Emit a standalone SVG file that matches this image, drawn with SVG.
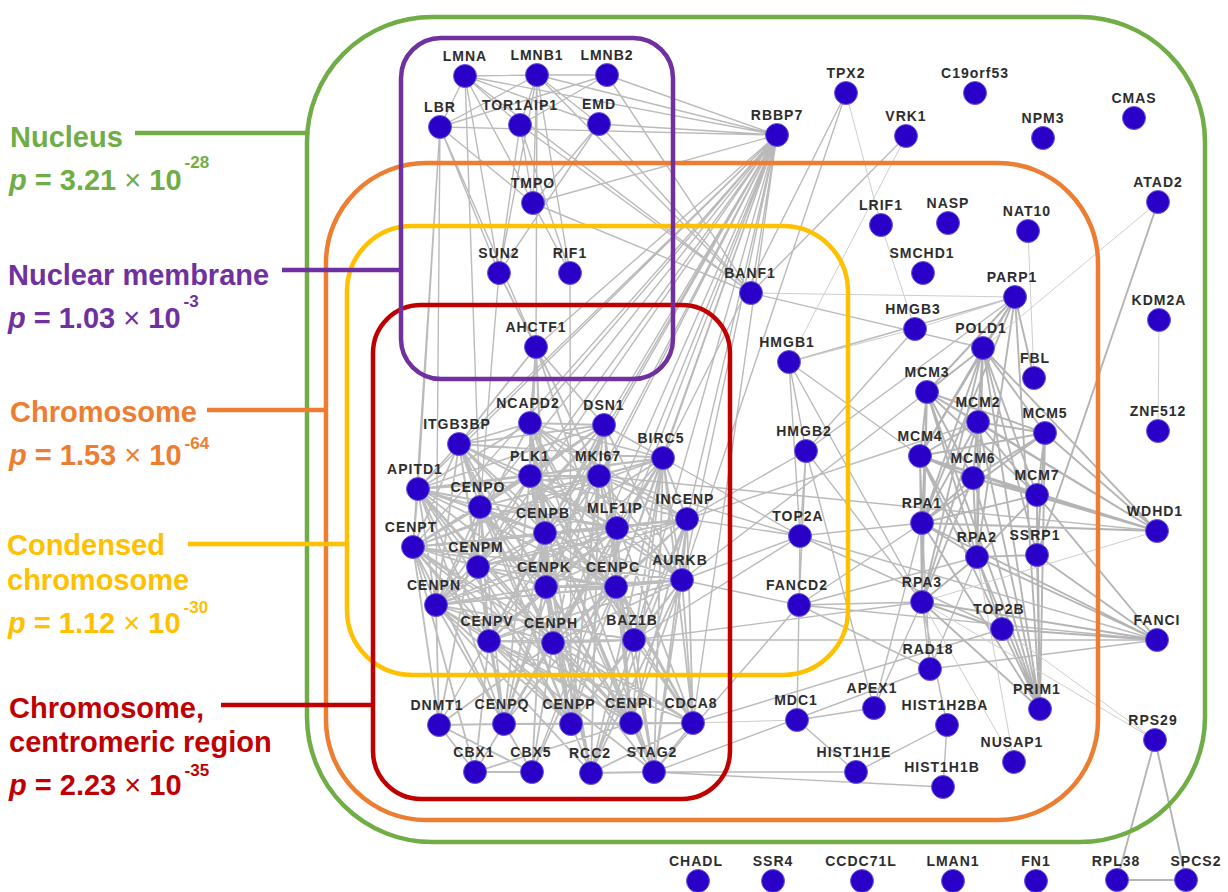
<svg xmlns="http://www.w3.org/2000/svg" width="1228" height="892" viewBox="0 0 1228 892">
<style>
.big{font-family:"Liberation Sans",Arial,sans-serif;font-weight:bold;font-size:29px}
.sup{font-size:17px}
.box{fill:none;stroke-width:4.5}
.c{fill:none;stroke:#bdbdbd;stroke-width:1.8}
.e{fill:none;stroke:#bababa;stroke-width:1.4}
.h{fill:none;stroke:#b4b4b4;stroke-width:1.9}
.t{fill:none;stroke:#cdcdcd;stroke-width:1}
.node circle{fill:#2a00c9;stroke:#6a5ad8;stroke-width:1}
.node text{font-family:"Liberation Sans",Arial,sans-serif;font-weight:bold;font-size:14px;letter-spacing:1px;fill:#2d2d2d;text-anchor:middle}
</style>
<rect width="1228" height="892" fill="#ffffff"/>

<g id="connectors">
<path class="c" d="M418 489L480 507M418 489L545 533M418 489L413 547M418 489L478 567M418 489L546 587M418 489L616 587M418 489L436 605M418 489L489 641M418 489L553 643M418 489L504 724M418 489L571 724M418 489L631 723M418 489L617 528M418 489L459 444M418 489L604 425
M480 507L545 533M480 507L413 547M480 507L478 567M480 507L546 587M480 507L616 587M480 507L436 605M480 507L489 641M480 507L553 643M480 507L504 724M480 507L571 724M480 507L631 723M480 507L617 528M480 507L459 444M480 507L604 425
M545 533L413 547M545 533L478 567M545 533L546 587M545 533L616 587M545 533L436 605M545 533L489 641M545 533L553 643M545 533L504 724M545 533L571 724M545 533L631 723M545 533L617 528M545 533L459 444M545 533L604 425
M413 547L478 567M413 547L546 587M413 547L616 587M413 547L436 605M413 547L489 641M413 547L553 643M413 547L504 724M413 547L571 724M413 547L631 723M413 547L617 528M413 547L459 444M413 547L604 425
M478 567L546 587M478 567L616 587M478 567L436 605M478 567L489 641M478 567L553 643M478 567L504 724M478 567L571 724M478 567L631 723M478 567L617 528M478 567L459 444M478 567L604 425
M546 587L616 587M546 587L436 605M546 587L489 641M546 587L553 643M546 587L504 724M546 587L571 724M546 587L631 723M546 587L617 528M546 587L459 444M546 587L604 425
M616 587L436 605M616 587L489 641M616 587L553 643M616 587L504 724M616 587L571 724M616 587L631 723M616 587L617 528M616 587L459 444M616 587L604 425
M436 605L489 641M436 605L553 643M436 605L504 724M436 605L571 724M436 605L631 723M436 605L617 528M436 605L459 444M436 605L604 425
M489 641L553 643M489 641L504 724M489 641L571 724M489 641L631 723M489 641L617 528M489 641L459 444M489 641L604 425
M553 643L504 724M553 643L571 724M553 643L631 723M553 643L617 528M553 643L459 444M553 643L604 425
M504 724L571 724M504 724L631 723M504 724L617 528M504 724L459 444M504 724L604 425
M571 724L631 723M571 724L617 528M571 724L459 444M571 724L604 425
M631 723L617 528M631 723L459 444M631 723L604 425M617 528L459 444M617 528L604 425M459 444L604 425"/>
<path class="c" d="M530 476L599 476M530 476L663 458M530 476L687 519M530 476L682 580M530 476L693 723M530 476L530 423M530 476L634 640M530 476L591 773M530 476L654 772
M599 476L663 458M599 476L687 519M599 476L682 580M599 476L693 723M599 476L530 423M599 476L634 640M599 476L591 773M599 476L654 772
M663 458L687 519M663 458L682 580M663 458L693 723M663 458L530 423M663 458L634 640M663 458L591 773M663 458L654 772
M687 519L682 580M687 519L693 723M687 519L530 423M687 519L634 640M687 519L591 773M687 519L654 772
M682 580L693 723M682 580L530 423M682 580L634 640M682 580L591 773M682 580L654 772
M693 723L530 423M693 723L634 640M693 723L591 773M693 723L654 772M530 423L634 640M530 423L591 773M530 423L654 772M634 640L591 773M634 640L654 772M591 773L654 772
M530 476L418 489M530 476L480 507M530 476L545 533M530 476L413 547M530 476L478 567M530 476L546 587M530 476L616 587M530 476L436 605M530 476L553 643M530 476L504 724M530 476L571 724M530 476L631 723M530 476L459 444M530 476L604 425M530 476L617 528
M682 580L616 587M682 580L546 587M682 580L553 643M682 580L631 723M682 580L571 724M682 580L545 533M682 580L413 547M682 580L436 605M682 580L489 641M682 580L418 489M682 580L617 528M682 580L604 425
M663 458L545 533M663 458L616 587M663 458L546 587M663 458L553 643M663 458L631 723M663 458L413 547M663 458L418 489M663 458L459 444M663 458L480 507M663 458L604 425M663 458L617 528
M687 519L616 587M687 519L546 587M687 519L553 643M687 519L631 723M687 519L545 533M687 519L617 528M687 519L478 567M687 519L436 605
M599 476L545 533M599 476L480 507M599 476L418 489M599 476L413 547M599 476L489 641M599 476L571 724
M693 723L631 723M693 723L571 724M693 723L553 643M693 723L616 587M693 723L413 547M693 723L489 641
M530 423L459 444M530 423L418 489M530 423L545 533M530 423L604 425M530 423L546 587M530 423L436 605
M634 640L553 643M634 640L616 587M634 640L571 724M634 640L489 641M634 640L436 605
M654 772L631 723M654 772L553 643M654 772L489 641M591 773L571 724M591 773L546 587M591 773L436 605
M532 772L553 643M532 772L475 772M532 772L504 724M532 772L545 533M532 772L616 587M532 772L439 725
M475 772L439 725M475 772L489 641M475 772L504 724M475 772L413 547M475 772L631 723
M439 725L436 605M439 725L413 547M439 725L504 724M439 725L553 643M439 725L480 507
M536 347L530 423M536 347L604 425M536 347L459 444M536 347L530 476M536 347L599 476M536 347L545 533M536 347L546 587M536 347L616 587M536 347L499 273"/>
<path class="e" d="M465 76L537 75M465 76L440 127M465 76L520 125M465 76L599 124M465 76L533 203M465 76L499 273M465 76L777 135M465 76L751 293M465 76L480 507
M537 75L607 75M537 75L440 127M537 75L520 125M537 75L599 124M537 75L533 203M537 75L570 273M537 75L499 273M537 75L777 135M537 75L751 293M537 75L536 347
M607 75L520 125M607 75L440 127M607 75L777 135M607 75L751 293
M440 127L533 203M440 127L499 273M440 127L536 347M440 127L436 605M440 127L413 547M440 127L418 489M440 127L777 135
M520 125L499 273M520 125L533 203M520 125L570 273M520 125L751 293
M599 124L533 203M599 124L499 273M599 124L751 293M599 124L777 135
M533 203L751 293M533 203L570 273M499 273L480 507M570 273L571 724"/>
<path class="e" d="M777 135L536 347M777 135L530 423M777 135L604 425M777 135L530 476M777 135L599 476M777 135L663 458M777 135L687 519M777 135L682 580M777 135L545 533M777 135L616 587M777 135L546 587M777 135L553 643M777 135L634 640M777 135L459 444M777 135L480 507M777 135L418 489M777 135L413 547M777 135L478 567M777 135L533 203M777 135L751 293M777 135L439 725M777 135L532 772M777 135L617 528M777 135L693 723"/>
<path class="e" d="M846 93L682 580M846 93L663 458M906 136L751 293M751 293L983 348
M789 362L806 451M789 362L800 536M789 362L1015 297M789 362L920 456M789 362L922 602
M806 451L800 536M806 451L799 605M806 451L922 602M806 451L874 708M806 451L687 519M806 451L1015 297M806 451L915 329
M800 536L799 605M800 536L687 519M800 536L682 580M800 536L663 458M800 536L599 476M800 536L1002 629M800 536L922 523M800 536L1157 640M800 536L634 640
M799 605L797 720M799 605L1157 640M799 605L922 523M799 605L977 557M799 605L930 669M799 605L682 580M799 605L654 772M799 605L922 602
M797 720L856 772M797 720L874 708M874 708L922 602M874 708L922 523
M930 669L977 557M930 669L922 602M930 669L922 523M930 669L1157 640
M947 725L943 787M947 725L922 602M947 725L856 772M856 772L654 772M943 787L654 772
M599 476L1157 531M682 580L927 392M687 519L978 422M634 640L922 602M693 723L1002 629M654 772L930 669M634 640L1157 640"/>
<path class="h" d="M927 392L978 422M927 392L1045 433M927 392L920 456M927 392L973 478M927 392L1037 495M927 392L983 348
M978 422L1045 433M978 422L920 456M978 422L973 478M978 422L1037 495M978 422L983 348
M1045 433L920 456M1045 433L973 478M1045 433L1037 495M1045 433L983 348
M920 456L973 478M920 456L1037 495M920 456L983 348M973 478L1037 495M973 478L983 348M1037 495L983 348
M922 523L927 392M922 523L978 422M922 523L920 456M922 523L973 478M922 523L1037 495M922 523L1045 433M922 523L983 348M922 523L977 557M922 523L922 602
M977 557L927 392M977 557L978 422M977 557L920 456M977 557L973 478M977 557L1037 495M977 557L983 348M977 557L922 602
M922 602L927 392M922 602L920 456M922 602L978 422M922 602L973 478M922 602L983 348
M1040 709L983 348M1040 709L927 392M1040 709L978 422M1040 709L920 456M1040 709L973 478M1040 709L1037 495M1040 709L1045 433M1040 709L922 523M1040 709L977 557M1040 709L922 602M1040 709L1037 555
M1037 555L1037 495M1037 555L1045 433M1037 555L977 557M1037 555L983 348
M1002 629L922 602M1002 629L977 557M1002 629L1157 640
M1157 531L978 422M1157 531L920 456M1157 531L973 478M1157 531L1037 495M1157 531L1045 433M1157 531L927 392M1157 531L922 523M1157 531L983 348
M1157 640L922 523M1157 640L977 557M1157 640L922 602M1157 640L1037 495M1157 640L1037 555
M1015 297L1034 378M1015 297L983 348M1015 297L927 392M1015 297L920 456M1015 297L922 523M1015 297L977 557M1015 297L1040 709
M1158 202L1037 555M1155 740L1117 880M1155 740L1186 880M1117 880L1186 880"/>
<path class="t" d="M846 93L881 225M906 136L789 362M881 225L915 329M751 293L1015 297M797 720L693 723M1014 762L977 557M1014 762L922 602M1028 231L1034 378M1158 202L983 348M1159 320L1158 431M1002 629L1155 740M922 602L1155 740M1157 531L922 602M1015 297L915 329M789 362L915 329"/>
</g>

<g id="containers">
<rect id="box-nucleus" class="box" x="307" y="17" width="898" height="825" rx="125" ry="125" stroke="#70ad47"/>
<rect id="box-chromosome" class="box" x="326" y="163" width="772" height="657" rx="100" ry="100" stroke="#ed7d31"/>
<rect id="box-condensed" class="box" x="347" y="226" width="501" height="449" rx="65" ry="65" stroke="#ffc000"/>
<rect id="box-centromeric" class="box" x="373" y="305" width="357" height="494" rx="48" ry="48" stroke="#c00000"/>
<rect id="box-membrane" class="box" x="401" y="38" width="272" height="341" rx="40" ry="40" stroke="#7030a0"/>
</g>

<g id="legend">
<g id="legend-nucleus" fill="#70ad47">
<line x1="135" y1="133" x2="307" y2="133" stroke="#70ad47" stroke-width="4.5"/>
<text class="big" x="10" y="147">Nucleus</text>
<text class="big" x="9" y="190"><tspan font-style="italic">p</tspan> = 3.21 <tspan font-weight="normal">×</tspan> 10<tspan class="sup" dx="3" dy="-22">-28</tspan></text>
</g>
<g id="legend-membrane" fill="#7030a0">
<line x1="282" y1="270" x2="401" y2="270" stroke="#7030a0" stroke-width="4.5"/>
<text class="big" x="8" y="285">Nuclear membrane</text>
<text class="big" x="8" y="328"><tspan font-style="italic">p</tspan> = 1.03 <tspan font-weight="normal">×</tspan> 10<tspan class="sup" dx="3" dy="-21">-3</tspan></text>
</g>
<g id="legend-chromosome" fill="#ed7d31">
<line x1="207" y1="410" x2="326" y2="410" stroke="#ed7d31" stroke-width="4.5"/>
<text class="big" x="10" y="422">Chromosome</text>
<text class="big" x="9" y="465"><tspan font-style="italic">p</tspan> = 1.53 <tspan font-weight="normal">×</tspan> 10<tspan class="sup" dx="3" dy="-16">-64</tspan></text>
</g>
<g id="legend-condensed" fill="#ffc000">
<line x1="188" y1="544" x2="347" y2="544" stroke="#ffc000" stroke-width="4.5"/>
<text class="big" x="7" y="555">Condensed</text>
<text class="big" x="7" y="590">chromosome</text>
<text class="big" x="8" y="633"><tspan font-style="italic">p</tspan> = 1.12 <tspan font-weight="normal">×</tspan> 10<tspan class="sup" dx="3" dy="-20">-30</tspan></text>
</g>
<g id="legend-centromeric" fill="#c00000">
<line x1="221" y1="705" x2="373" y2="705" stroke="#c00000" stroke-width="4.5"/>
<text class="big" x="9" y="718">Chromosome,</text>
<text class="big" x="9" y="752">centromeric region</text>
<text class="big" x="9" y="795"><tspan font-style="italic">p</tspan> = 2.23 <tspan font-weight="normal">×</tspan> 10<tspan class="sup" dx="3" dy="-19">-35</tspan></text>
</g>
</g>

<g id="nodes">
<g id="LMNA" class="node"><circle cx="465" cy="76" r="11.5"/><text x="465" y="61">LMNA</text></g>
<g id="LMNB1" class="node"><circle cx="537" cy="75" r="11.5"/><text x="537" y="60">LMNB1</text></g>
<g id="LMNB2" class="node"><circle cx="607" cy="75" r="11.5"/><text x="607" y="60">LMNB2</text></g>
<g id="LBR" class="node"><circle cx="440" cy="127" r="11.5"/><text x="440" y="112">LBR</text></g>
<g id="TOR1AIP1" class="node"><circle cx="520" cy="125" r="11.5"/><text x="520" y="110">TOR1AIP1</text></g>
<g id="EMD" class="node"><circle cx="599" cy="124" r="11.5"/><text x="599" y="109">EMD</text></g>
<g id="TMPO" class="node"><circle cx="533" cy="203" r="11.5"/><text x="533" y="188">TMPO</text></g>
<g id="SUN2" class="node"><circle cx="499" cy="273" r="11.5"/><text x="499" y="258">SUN2</text></g>
<g id="RIF1" class="node"><circle cx="570" cy="273" r="11.5"/><text x="570" y="258">RIF1</text></g>
<g id="AHCTF1" class="node"><circle cx="536" cy="347" r="11.5"/><text x="536" y="332">AHCTF1</text></g>
<g id="NCAPD2" class="node"><circle cx="530" cy="423" r="11.5"/><text x="528" y="408">NCAPD2</text></g>
<g id="DSN1" class="node"><circle cx="604" cy="425" r="11.5"/><text x="604" y="410">DSN1</text></g>
<g id="ITGB3BP" class="node"><circle cx="459" cy="444" r="11.5"/><text x="457" y="429">ITGB3BP</text></g>
<g id="BIRC5" class="node"><circle cx="663" cy="458" r="11.5"/><text x="661" y="443">BIRC5</text></g>
<g id="PLK1" class="node"><circle cx="530" cy="476" r="11.5"/><text x="530" y="461">PLK1</text></g>
<g id="MKI67" class="node"><circle cx="599" cy="476" r="11.5"/><text x="598" y="461">MKI67</text></g>
<g id="APITD1" class="node"><circle cx="418" cy="489" r="11.5"/><text x="415" y="474">APITD1</text></g>
<g id="CENPO" class="node"><circle cx="480" cy="507" r="11.5"/><text x="478" y="492">CENPO</text></g>
<g id="INCENP" class="node"><circle cx="687" cy="519" r="11.5"/><text x="685" y="504">INCENP</text></g>
<g id="CENPB" class="node"><circle cx="545" cy="533" r="11.5"/><text x="543" y="518">CENPB</text></g>
<g id="MLF1IP" class="node"><circle cx="617" cy="528" r="11.5"/><text x="615" y="513">MLF1IP</text></g>
<g id="CENPT" class="node"><circle cx="413" cy="547" r="11.5"/><text x="411" y="532">CENPT</text></g>
<g id="CENPM" class="node"><circle cx="478" cy="567" r="11.5"/><text x="476" y="552">CENPM</text></g>
<g id="CENPK" class="node"><circle cx="546" cy="587" r="11.5"/><text x="544" y="572">CENPK</text></g>
<g id="CENPC" class="node"><circle cx="616" cy="587" r="11.5"/><text x="613" y="572">CENPC</text></g>
<g id="AURKB" class="node"><circle cx="682" cy="580" r="11.5"/><text x="680" y="565">AURKB</text></g>
<g id="CENPN" class="node"><circle cx="436" cy="605" r="11.5"/><text x="434" y="590">CENPN</text></g>
<g id="CENPV" class="node"><circle cx="489" cy="641" r="11.5"/><text x="487" y="626">CENPV</text></g>
<g id="CENPH" class="node"><circle cx="553" cy="643" r="11.5"/><text x="551" y="628">CENPH</text></g>
<g id="BAZ1B" class="node"><circle cx="634" cy="640" r="11.5"/><text x="632" y="625">BAZ1B</text></g>
<g id="DNMT1" class="node"><circle cx="439" cy="725" r="11.5"/><text x="437" y="710">DNMT1</text></g>
<g id="CENPQ" class="node"><circle cx="504" cy="724" r="11.5"/><text x="502" y="709">CENPQ</text></g>
<g id="CENPP" class="node"><circle cx="571" cy="724" r="11.5"/><text x="569" y="709">CENPP</text></g>
<g id="CENPI" class="node"><circle cx="631" cy="723" r="11.5"/><text x="629" y="708">CENPI</text></g>
<g id="CDCA8" class="node"><circle cx="693" cy="723" r="11.5"/><text x="691" y="708">CDCA8</text></g>
<g id="CBX1" class="node"><circle cx="475" cy="772" r="11.5"/><text x="474" y="757">CBX1</text></g>
<g id="CBX5" class="node"><circle cx="532" cy="772" r="11.5"/><text x="531" y="757">CBX5</text></g>
<g id="RCC2" class="node"><circle cx="591" cy="773" r="11.5"/><text x="590" y="758">RCC2</text></g>
<g id="STAG2" class="node"><circle cx="654" cy="772" r="11.5"/><text x="652" y="757">STAG2</text></g>
<g id="TPX2" class="node"><circle cx="846" cy="93" r="11.5"/><text x="846" y="78">TPX2</text></g>
<g id="C19orf53" class="node"><circle cx="975" cy="93" r="11.5"/><text x="975" y="78">C19orf53</text></g>
<g id="RBBP7" class="node"><circle cx="777" cy="135" r="11.5"/><text x="777" y="120">RBBP7</text></g>
<g id="VRK1" class="node"><circle cx="906" cy="136" r="11.5"/><text x="906" y="121">VRK1</text></g>
<g id="NPM3" class="node"><circle cx="1043" cy="138" r="11.5"/><text x="1043" y="123">NPM3</text></g>
<g id="CMAS" class="node"><circle cx="1134" cy="118" r="11.5"/><text x="1134" y="103">CMAS</text></g>
<g id="LRIF1" class="node"><circle cx="881" cy="225" r="11.5"/><text x="881" y="210">LRIF1</text></g>
<g id="NASP" class="node"><circle cx="948" cy="223" r="11.5"/><text x="948" y="208">NASP</text></g>
<g id="NAT10" class="node"><circle cx="1028" cy="231" r="11.5"/><text x="1027" y="216">NAT10</text></g>
<g id="ATAD2" class="node"><circle cx="1158" cy="202" r="11.5"/><text x="1158" y="187">ATAD2</text></g>
<g id="SMCHD1" class="node"><circle cx="923" cy="273" r="11.5"/><text x="922" y="258">SMCHD1</text></g>
<g id="BANF1" class="node"><circle cx="751" cy="293" r="11.5"/><text x="750" y="278">BANF1</text></g>
<g id="PARP1" class="node"><circle cx="1015" cy="297" r="11.5"/><text x="1012" y="282">PARP1</text></g>
<g id="KDM2A" class="node"><circle cx="1159" cy="320" r="11.5"/><text x="1159" y="305">KDM2A</text></g>
<g id="HMGB3" class="node"><circle cx="915" cy="329" r="11.5"/><text x="913" y="314">HMGB3</text></g>
<g id="POLD1" class="node"><circle cx="983" cy="348" r="11.5"/><text x="981" y="333">POLD1</text></g>
<g id="HMGB1" class="node"><circle cx="789" cy="362" r="11.5"/><text x="787" y="347">HMGB1</text></g>
<g id="FBL" class="node"><circle cx="1034" cy="378" r="11.5"/><text x="1035" y="363">FBL</text></g>
<g id="MCM3" class="node"><circle cx="927" cy="392" r="11.5"/><text x="927" y="377">MCM3</text></g>
<g id="MCM2" class="node"><circle cx="978" cy="422" r="11.5"/><text x="978" y="407">MCM2</text></g>
<g id="MCM5" class="node"><circle cx="1045" cy="433" r="11.5"/><text x="1045" y="418">MCM5</text></g>
<g id="ZNF512" class="node"><circle cx="1158" cy="431" r="11.5"/><text x="1158" y="416">ZNF512</text></g>
<g id="HMGB2" class="node"><circle cx="806" cy="451" r="11.5"/><text x="804" y="436">HMGB2</text></g>
<g id="MCM4" class="node"><circle cx="920" cy="456" r="11.5"/><text x="920" y="441">MCM4</text></g>
<g id="MCM6" class="node"><circle cx="973" cy="478" r="11.5"/><text x="973" y="463">MCM6</text></g>
<g id="MCM7" class="node"><circle cx="1037" cy="495" r="11.5"/><text x="1037" y="480">MCM7</text></g>
<g id="WDHD1" class="node"><circle cx="1157" cy="531" r="11.5"/><text x="1155" y="516">WDHD1</text></g>
<g id="RPA1" class="node"><circle cx="922" cy="523" r="11.5"/><text x="922" y="508">RPA1</text></g>
<g id="TOP2A" class="node"><circle cx="800" cy="536" r="11.5"/><text x="798" y="521">TOP2A</text></g>
<g id="RPA2" class="node"><circle cx="977" cy="557" r="11.5"/><text x="977" y="542">RPA2</text></g>
<g id="SSRP1" class="node"><circle cx="1037" cy="555" r="11.5"/><text x="1035" y="540">SSRP1</text></g>
<g id="RPA3" class="node"><circle cx="922" cy="602" r="11.5"/><text x="922" y="587">RPA3</text></g>
<g id="FANCD2" class="node"><circle cx="799" cy="605" r="11.5"/><text x="797" y="590">FANCD2</text></g>
<g id="TOP2B" class="node"><circle cx="1002" cy="629" r="11.5"/><text x="999" y="614">TOP2B</text></g>
<g id="FANCI" class="node"><circle cx="1157" cy="640" r="11.5"/><text x="1157" y="625">FANCI</text></g>
<g id="RAD18" class="node"><circle cx="930" cy="669" r="11.5"/><text x="928" y="654">RAD18</text></g>
<g id="APEX1" class="node"><circle cx="874" cy="708" r="11.5"/><text x="872" y="693">APEX1</text></g>
<g id="PRIM1" class="node"><circle cx="1040" cy="709" r="11.5"/><text x="1037" y="694">PRIM1</text></g>
<g id="MDC1" class="node"><circle cx="797" cy="720" r="11.5"/><text x="796" y="705">MDC1</text></g>
<g id="HIST1H2BA" class="node"><circle cx="947" cy="725" r="11.5"/><text x="945" y="710">HIST1H2BA</text></g>
<g id="RPS29" class="node"><circle cx="1155" cy="740" r="11.5"/><text x="1153" y="725">RPS29</text></g>
<g id="NUSAP1" class="node"><circle cx="1014" cy="762" r="11.5"/><text x="1012" y="747">NUSAP1</text></g>
<g id="HIST1H1E" class="node"><circle cx="856" cy="772" r="11.5"/><text x="854" y="757">HIST1H1E</text></g>
<g id="HIST1H1B" class="node"><circle cx="943" cy="787" r="11.5"/><text x="942" y="772">HIST1H1B</text></g>
<g id="CHADL" class="node"><circle cx="698" cy="881" r="11.5"/><text x="696" y="866">CHADL</text></g>
<g id="SSR4" class="node"><circle cx="773" cy="881" r="11.5"/><text x="773" y="866">SSR4</text></g>
<g id="CCDC71L" class="node"><circle cx="862" cy="881" r="11.5"/><text x="861" y="866">CCDC71L</text></g>
<g id="LMAN1" class="node"><circle cx="953" cy="881" r="11.5"/><text x="953" y="866">LMAN1</text></g>
<g id="FN1" class="node"><circle cx="1036" cy="881" r="11.5"/><text x="1036" y="866">FN1</text></g>
<g id="RPL38" class="node"><circle cx="1117" cy="880" r="11.5"/><text x="1116" y="866">RPL38</text></g>
<g id="SPCS2" class="node"><circle cx="1186" cy="880" r="11.5"/><text x="1196" y="866">SPCS2</text></g>
</g>
</svg>
